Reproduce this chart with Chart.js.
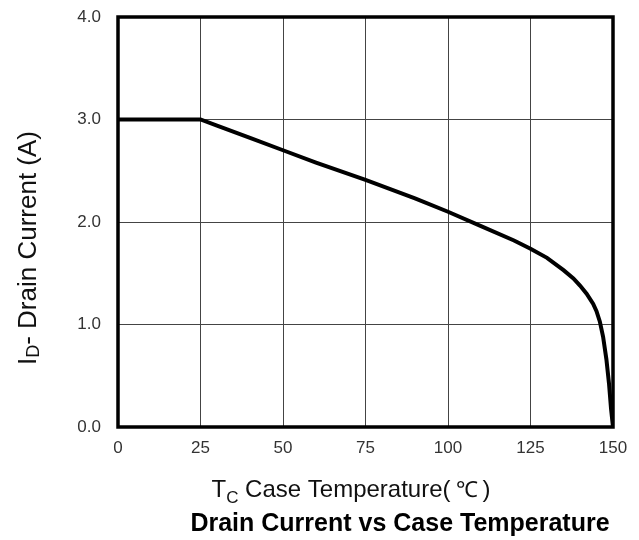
<!DOCTYPE html>
<html>
<head>
<meta charset="utf-8">
<script src="https://cdn.jsdelivr.net/npm/chart.js@4/dist/chart.umd.min.js"></script>
<style>
html,body{margin:0;padding:0;background:#fff;}
#wrap{width:639px;height:540px;position:relative;}
</style>
</head>
<body>
<div id="wrap"><canvas id="c" width="639" height="540"></canvas></div>
<script>
const temperatures = [0, 25, 30, 40, 50, 60, 75, 90, 100, 110, 120, 125, 130, 135, 138, 140, 142, 144, 145, 146, 147, 148, 148.8, 149.4, 150];
const drainCurrent = [3.0, 3.0, 2.94, 2.82, 2.70, 2.58, 2.41, 2.23, 2.10, 1.96, 1.82, 1.74, 1.65, 1.53, 1.45, 1.38, 1.30, 1.20, 1.13, 1.03, 0.88, 0.66, 0.42, 0.18, 0.0];
const xTicks = [0, 25, 50, 75, 100, 125, 150];
const yTicks = [0, 1, 2, 3, 4];
const chartTitle = "Drain Current vs Case Temperature";

const points = temperatures.map((t, i) => ({x: t, y: drainCurrent[i]}));

const textPlugin = {
  id: 'texts',
  afterDatasetsDraw(chart) {
    const ctx = chart.ctx;
    const a = chart.chartArea;
    ctx.save();
    ctx.strokeStyle = '#000';
    ctx.lineWidth = 3.5;
    ctx.strokeRect(a.left, a.top, a.right - a.left, a.bottom - a.top);
    ctx.restore();
  },
  afterDraw(chart) {
    const ctx = chart.ctx;
    ctx.save();
    ctx.fillStyle = '#111';
    ctx.textBaseline = 'alphabetic';
    const fam = '"Liberation Sans", Arial, sans-serif';
    // x title with subscript; [text, font, dy, gapAfter]
    const big = '24px ' + fam;
    const small = '17px ' + fam;
    const parts = [['T', big, 0, 0], ['C', small, 6, 0], [' Case Temperature(', big, 0, 5], ['℃', '22px ' + fam, 0, 5], [')', big, 0, 0]];
    let total = 0;
    parts.forEach(p => { ctx.font = p[1]; total += ctx.measureText(p[0]).width + p[3]; });
    let x = 351 - total / 2;
    const yb = 497;
    parts.forEach(p => { ctx.font = p[1]; ctx.fillText(p[0], x, yb + p[2]); x += ctx.measureText(p[0]).width + p[3]; });

    // y title rotated with subscript
    ctx.save();
    ctx.translate(36, 248);
    ctx.rotate(-Math.PI / 2);
    const ybig = '26px ' + fam;
    const ysmall = '18px ' + fam;
    const yparts = [['I', ybig, 0], ['D', ysmall, 3], ['- Drain Current (A)', ybig, 0]];
    total = 0;
    yparts.forEach(p => { ctx.font = p[1]; total += ctx.measureText(p[0]).width; });
    x = -total / 2;
    yparts.forEach(p => { ctx.font = p[1]; ctx.fillText(p[0], x, p[2]); x += ctx.measureText(p[0]).width; });
    ctx.restore();

    // bold title
    ctx.font = 'bold 25px "Liberation Sans Narrow", "Liberation Sans", sans-serif';
    ctx.fillStyle = '#000';
    ctx.textAlign = 'center';
    ctx.fillText(chartTitle, 400, 531);
    ctx.restore();
  }
};

new Chart(document.getElementById('c'), {
  type: 'line',
  data: {
    datasets: [{
      data: points,
      borderColor: '#000',
      borderWidth: 4,
      pointRadius: 0,
      fill: false,
      tension: 0
    }]
  },
  options: {
    responsive: false,
    animation: false,
    layout: {padding: {top: 17, right: 26, left: 0, bottom: 0}},
    plugins: {legend: {display: false}, tooltip: {enabled: false}},
    scales: {
      x: {
        type: 'linear',
        min: 0, max: 150,
        afterFit(s) { s.height = 113; s.paddingLeft = 0; s.paddingRight = 0; },
        afterBuildTicks(s) { s.ticks = xTicks.map(v => ({value: v})); },
        grid: {color: '#444', lineWidth: 1, drawTicks: false},
        border: {display: false},
        ticks: {
          padding: 11,
          color: '#333',
          font: {family: '"Liberation Sans", Arial, sans-serif', size: 17},
          callback: v => String(v)
        }
      },
      y: {
        type: 'linear',
        min: 0, max: 4,
        afterFit(s) { s.width = 118; s.paddingTop = 0; s.paddingBottom = 0; },
        afterBuildTicks(s) { s.ticks = yTicks.map(v => ({value: v})); },
        grid: {color: '#444', lineWidth: 1, drawTicks: false},
        border: {display: false},
        ticks: {
          padding: 17,
          color: '#333',
          font: {family: '"Liberation Sans", Arial, sans-serif', size: 17},
          callback: v => Number(v).toFixed(1)
        }
      }
    }
  },
  plugins: [textPlugin]
});
</script>
</body>
</html>
